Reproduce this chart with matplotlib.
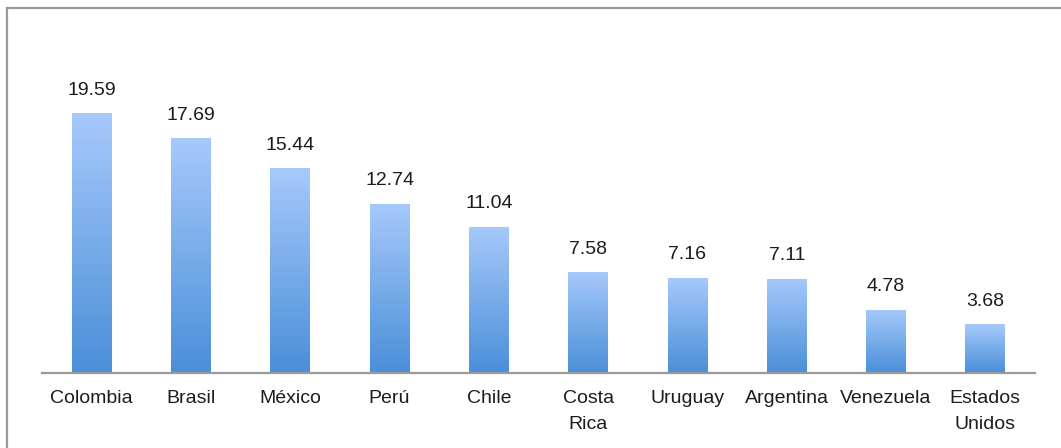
import numpy as np
import matplotlib
matplotlib.use('Agg')
import matplotlib.pyplot as plt
from matplotlib.patches import Rectangle
from matplotlib.colors import LinearSegmentedColormap

paises = ['Colombia', 'Brasil', 'México', 'Perú', 'Chile', 'Costa\nRica',
          'Uruguay', 'Argentina', 'Venezuela', 'Estados\nUnidos']
valores = [19.59, 17.69, 15.44, 12.74, 11.04, 7.58, 7.16, 7.11, 4.78, 3.68]

plt.rcParams['font.family'] = ['Liberation Sans', 'DejaVu Sans']

fig = plt.figure(figsize=(10.61, 4.48), dpi=100)
ax = fig.add_axes([0.0396, 0.1674, 0.9359, 0.7404])

# marco gris alrededor del gráfico
fig.patches.append(Rectangle((7 / 1061, -0.1), 1.2, 1 - 8 / 448 + 0.1,
                             transform=fig.transFigure, fill=False,
                             edgecolor='#9a9a9a', linewidth=1.6))

x = np.arange(len(paises))
barras = ax.bar(x, valores, width=0.4, color='none', edgecolor='none')

# degradado vertical dentro de cada barra
degradado = LinearSegmentedColormap.from_list('azul', ['#4a8fd8', '#a6c9fb'])
grad = np.linspace(0, 1, 256).reshape(-1, 1)
for b in barras:
    x0, y0 = b.get_x(), b.get_y()
    im = ax.imshow(grad, cmap=degradado, origin='lower', aspect='auto',
                   extent=(x0, x0 + b.get_width(), y0, y0 + b.get_height()),
                   zorder=2)
    im.set_clip_path(b)

for xi, v in zip(x, valores):
    ax.annotate(f'{v:.2f}', (xi, v), xytext=(0, 10.5), textcoords='offset points',
                ha='center', va='bottom', fontsize=14, color='#1c1c1c')

ax.set_xlim(-0.5, len(paises) - 0.5)
ax.set_ylim(0, 25)
ax.set_xticks(x)
ax.set_xticklabels(paises, fontsize=14, color='#1c1c1c', linespacing=1.65)
ax.tick_params(axis='x', length=0, pad=12.5)
ax.set_yticks([])
for s in ['top', 'right', 'left']:
    ax.spines[s].set_visible(False)
ax.spines['bottom'].set_color('#9a9a9a')
ax.spines['bottom'].set_linewidth(1.6)
ax.spines['bottom'].set_zorder(3)

fig.savefig('out.png', dpi=100)
